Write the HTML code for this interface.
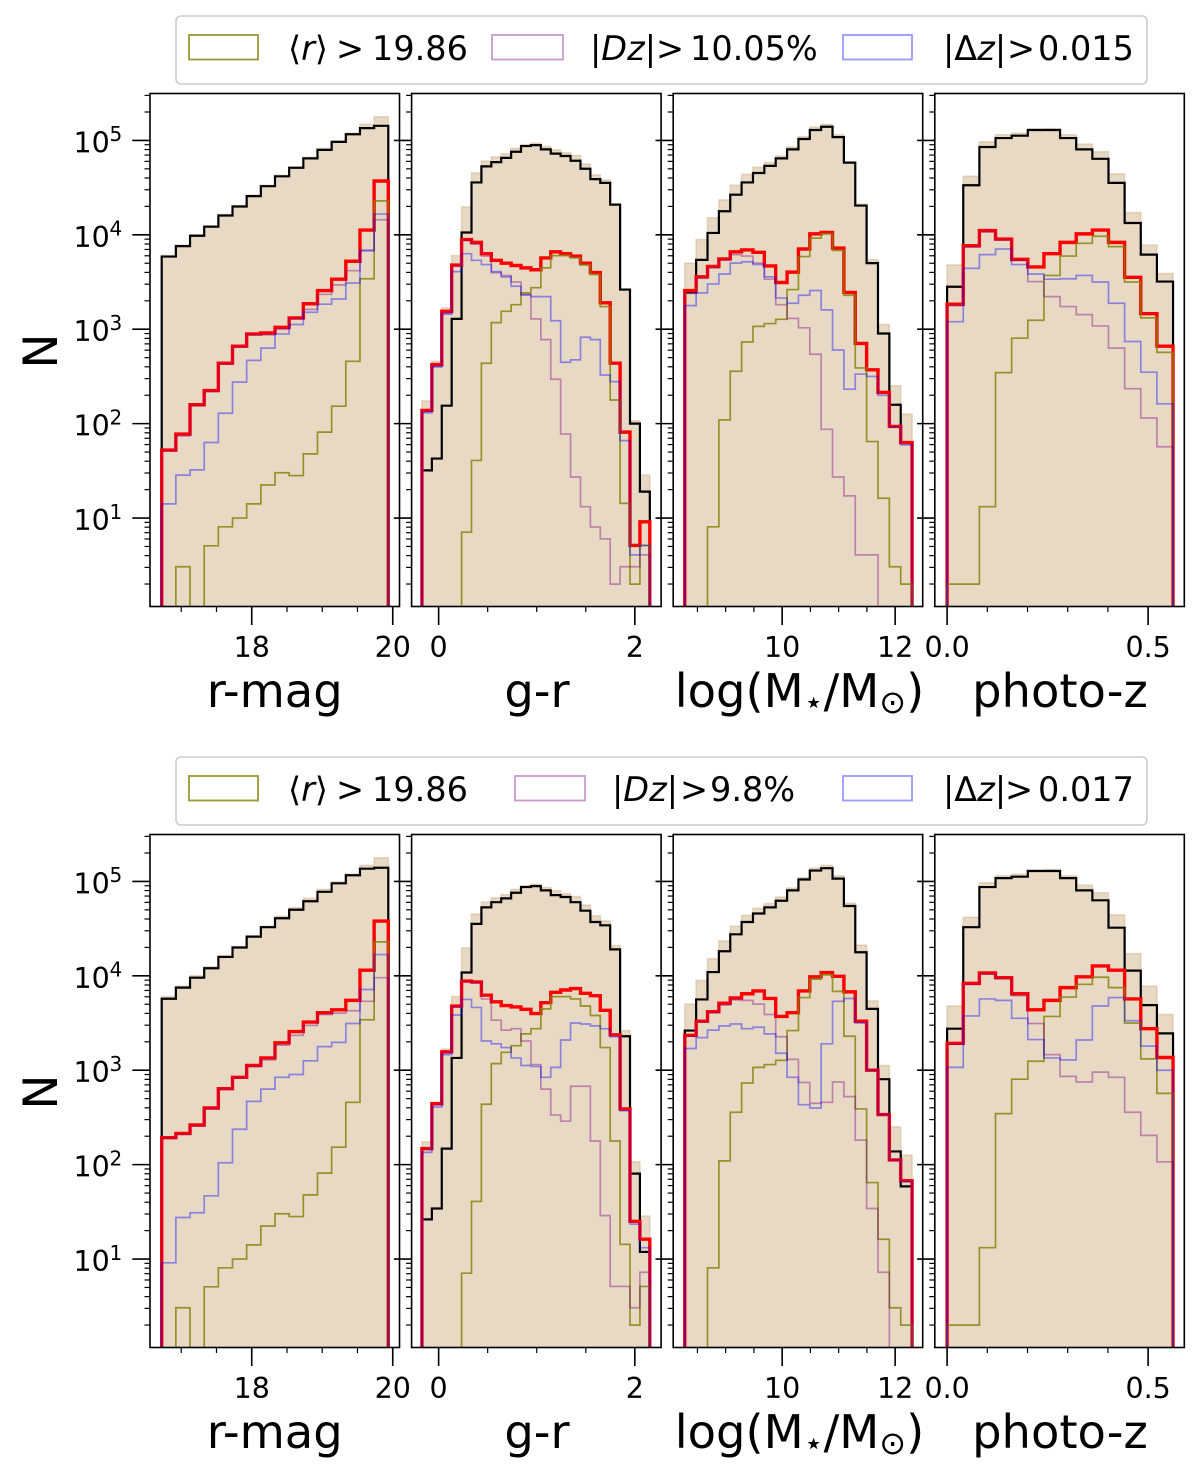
<!DOCTYPE html>
<html lang="en">
<head>
<meta charset="utf-8">
<title>Histograms of outlier selections</title>
<style>
html,body{margin:0;padding:0;background:#fff;}
svg{display:block;position:absolute;left:0;top:0;}
text{font-family:"DejaVu Sans","Liberation Sans",sans-serif;fill:#000;}
.leg{font-size:33.5px;}
.it{font-style:italic;}
.xl{font-size:46.4px;text-anchor:middle;}
.yl{font-size:47px;text-anchor:middle;}
</style>
</head>
<body>
<svg id="chart" xmlns="http://www.w3.org/2000/svg" width="1200" height="1477" viewBox="0 0 1200 1477">
  <rect x="0" y="0" width="1200" height="1477" fill="#fff"/>
  <g id="panels"></g>

  <g>
    <rect x="176" y="16" width="971" height="68" rx="5" fill="#fff" stroke="#ccc" stroke-width="1.6"/>
    <g>
      <rect x="189" y="35" width="69" height="24.5" fill="#fff" stroke="olive" stroke-opacity=".8" stroke-width="1.8"/>
      <text class="leg" x="288" y="60">⟨<tspan class="it">r</tspan>⟩</text>
      <text class="leg" x="336" y="60">&gt;</text>
      <text class="leg" x="372" y="60">19.86</text>
    </g>
    <g>
      <rect x="492" y="35" width="71" height="24.5" fill="#fff" stroke="purple" stroke-opacity=".4" stroke-width="1.8"/>
      <text class="leg" x="590" y="60">|<tspan class="it">Dz</tspan>|</text>
      <text class="leg" x="656" y="60">&gt;</text>
      <text class="leg" x="690" y="60">10.05%</text>
    </g>
    <g>
      <rect x="843" y="35" width="69" height="24.5" fill="#fff" stroke="blue" stroke-opacity=".4" stroke-width="1.8"/>
      <text class="leg" x="943" y="60">|Δ<tspan class="it">z</tspan>|</text>
      <text class="leg" x="1007" y="60">&gt;</text>
      <text class="leg" x="1038" y="60">0.015</text>
    </g>
  </g>

  <g>
    <rect x="176" y="757" width="971" height="68" rx="5" fill="#fff" stroke="#ccc" stroke-width="1.6"/>
    <g>
      <rect x="189" y="776" width="69" height="24.5" fill="#fff" stroke="olive" stroke-opacity=".8" stroke-width="1.8"/>
      <text class="leg" x="288" y="801">⟨<tspan class="it">r</tspan>⟩</text>
      <text class="leg" x="336" y="801">&gt;</text>
      <text class="leg" x="372" y="801">19.86</text>
    </g>
    <g>
      <rect x="515" y="776" width="70" height="24.5" fill="#fff" stroke="purple" stroke-opacity=".4" stroke-width="1.8"/>
      <text class="leg" x="612" y="801">|<tspan class="it">Dz</tspan>|</text>
      <text class="leg" x="680" y="801">&gt;</text>
      <text class="leg" x="710" y="801">9.8%</text>
    </g>
    <g>
      <rect x="843" y="776" width="69" height="24.5" fill="#fff" stroke="blue" stroke-opacity=".4" stroke-width="1.8"/>
      <text class="leg" x="943" y="801">|Δ<tspan class="it">z</tspan>|</text>
      <text class="leg" x="1005" y="801">&gt;</text>
      <text class="leg" x="1038" y="801">0.017</text>
    </g>
  </g>

  <text class="yl" transform="translate(57 351) rotate(-90)">N</text>
  <text class="yl" transform="translate(57 1092) rotate(-90)">N</text>

  <text class="xl" x="274.7" y="707">r-mag</text>
  <text class="xl" x="537" y="707">g-r</text>
  <text class="xl" x="799.5" y="707">log(M<tspan font-size="32" dy="6">⋆</tspan><tspan dy="-6">/M</tspan><tspan font-size="32" dy="6">⊙</tspan><tspan dy="-6">)</tspan></text>
  <text class="xl" x="1060" y="707">photo-z</text>

  <text class="xl" x="274.7" y="1448">r-mag</text>
  <text class="xl" x="537" y="1448">g-r</text>
  <text class="xl" x="799.5" y="1448">log(M<tspan font-size="32" dy="6">⋆</tspan><tspan dy="-6">/M</tspan><tspan font-size="32" dy="6">⊙</tspan><tspan dy="-6">)</tspan></text>
  <text class="xl" x="1060" y="1448">photo-z</text>
</svg>

<script>
// All series hold log10(N) per histogram bin; null marks an empty bin.
const yLimLog = [0.063, 5.497];
const yMajorExponents = [1, 2, 3, 4, 5];
const yMinorMultiples = [2, 3, 4, 5, 6, 7, 8, 9];

// r-mag
const rmagLim = [16.557, 20.096];
const rmagRange = [16.723, 19.937];
const rmagTicks = [18, 20];
const rmagTickLabels = ['18', '20'];
const rmagMinor = [17, 17.5, 18.5, 19, 19.5];
const rmagFill = [3.78,3.89,4.0,4.095,4.215,4.31,4.42,4.525,4.63,4.72,4.82,4.915,4.995,5.075,5.17,5.25];
const rmagOlive = [null,0.484,null,0.706,0.907,1.0,1.15,1.35,1.48,1.45,1.68,1.91,2.185,2.66,3.535,4.36];
const rmagBlackTop = [3.77,3.88,3.99,4.086,4.205,4.30,4.41,4.515,4.62,4.71,4.81,4.90,4.985,5.065,5.13,5.155];
const rmagRedTop = [1.72,1.89,2.20,2.35,2.64,2.82,2.95,2.96,3.02,3.12,3.27,3.41,3.53,3.72,4.05,4.57];
const rmagPurpleTop = [1.71,1.87,2.19,2.34,2.63,2.81,2.94,2.94,3.0,3.11,3.21,3.37,3.47,3.62,3.84,4.16];
const rmagBlueTop = [1.15,1.455,1.51,1.80,2.11,2.44,2.67,2.80,2.95,3.05,3.18,3.265,3.32,3.49,3.83,4.22];
const rmagBlackBottom = [3.757,3.875,3.98,4.08,4.20,4.30,4.415,4.515,4.61,4.70,4.79,4.89,4.98,5.065,5.135,5.145];
const rmagRedBottom = [2.285,2.33,2.42,2.60,2.805,2.925,3.05,3.13,3.29,3.41,3.51,3.61,3.64,3.74,4.06,4.58];
const rmagPurpleBottom = [2.28,2.32,2.41,2.595,2.80,2.92,3.04,3.11,3.265,3.37,3.475,3.59,3.605,3.63,3.73,3.98];
const rmagBlueBottom = [0.96,1.44,1.49,1.67,2.02,2.375,2.67,2.80,2.925,2.955,3.10,3.25,3.295,3.495,3.855,4.225];

// g-r
const grLim = [-0.2755, 2.268];
const grRange = [-0.170, 2.153];
const grTicks = [0, 2];
const grTickLabels = ['0', '2'];
const grMinor = [0.5, 1, 1.5];
const grFill = [2.24,2.66,3.225,3.78,4.295,4.655,4.78,4.825,4.86,4.915,4.955,4.97,4.935,4.90,4.87,4.84,4.75,4.635,4.58,4.32,3.42,2.03,1.455];
const grOlive = [null,null,null,null,0.85,1.61,2.64,3.07,3.19,3.26,3.385,3.44,3.65,3.78,3.78,3.755,3.68,3.58,3.24,2.25,1.155,0.30,0.71];
const grBlackTop = [1.505,1.63,2.19,3.11,4.025,4.555,4.725,4.77,4.815,4.88,4.94,4.95,4.905,4.86,4.835,4.785,4.70,4.59,4.55,4.32,3.42,2.0,1.28];
const grRedTop = [2.14,2.625,3.19,3.68,3.95,3.92,3.80,3.73,3.70,3.675,3.65,3.63,3.755,3.82,3.80,3.775,3.70,3.60,3.28,2.64,1.91,0.71,0.96];
const grPurpleTop = [2.13,2.61,3.17,3.67,3.945,3.90,3.775,3.60,3.57,3.50,3.365,3.11,2.89,2.47,1.89,1.435,1.12,0.905,0.78,0.30,0.484,0.484,0.61];
const grBlueTop = [2.115,2.60,3.16,3.61,3.80,3.73,3.685,3.61,3.555,3.455,3.365,3.345,3.345,3.09,2.65,2.675,2.915,2.89,2.515,2.445,1.82,0.61,0.71];
const grBlackBottom = [1.42,1.535,2.17,3.13,4.035,4.55,4.725,4.78,4.82,4.88,4.94,4.95,4.905,4.855,4.835,4.78,4.69,4.57,4.535,4.28,3.36,1.905,1.075];
const grRedBottom = [2.17,2.645,3.195,3.68,3.945,3.935,3.795,3.725,3.685,3.67,3.645,3.60,3.715,3.825,3.85,3.865,3.815,3.79,3.635,3.375,2.59,1.40,1.21];
const grPurpleBottom = [2.16,2.635,3.185,3.67,3.94,3.925,3.755,3.53,3.425,3.44,3.31,3.06,2.80,2.525,2.46,2.83,2.83,2.25,1.46,0.71,0.71,0.484,0.86];
const grBlueBottom = [2.13,2.61,3.165,3.585,3.75,3.665,3.31,3.28,3.24,3.13,3.05,3.04,2.925,3.03,3.32,3.50,3.49,3.47,3.44,3.355,2.57,1.37,1.12];

// log stellar mass
const massLim = [8.071, 12.488];
const massRange = [8.276, 12.30];
const massTicks = [10, 12];
const massTickLabels = ['10', '12'];
const massMinor = [8.5, 9, 9.5, 10.5, 11, 11.5];
const massFill = [3.70,3.95,4.18,4.37,4.525,4.64,4.715,4.765,4.835,4.93,5.04,5.14,5.17,5.06,4.77,4.325,3.735,3.05,2.40,2.10];
const massOlive = [null,null,0.907,2.04,2.555,2.865,3.03,3.06,3.105,3.42,3.77,3.965,4.01,3.835,3.36,2.59,1.81,1.21,0.484,0.30];
const massBlackTop = [3.39,3.735,4.02,4.25,4.425,4.555,4.655,4.73,4.81,4.905,5.015,5.11,5.145,5.035,4.765,4.31,3.70,2.955,2.20,1.80];
const massRedTop = [3.41,3.555,3.665,3.745,3.82,3.84,3.815,3.67,3.495,3.605,3.85,4.01,4.025,3.86,3.39,2.85,2.57,2.33,1.97,1.80];
const massPurpleTop = [3.38,3.54,3.65,3.735,3.79,3.775,3.70,3.53,3.26,3.115,3.015,2.735,1.94,1.435,1.235,0.61,0.61,null,null,null];
const massBlueTop = [3.25,3.385,3.48,3.585,3.70,3.715,3.685,3.555,3.33,3.275,3.36,3.41,3.205,2.78,2.365,2.525,2.50,2.30,1.965,1.775];
const massBlackBottom = [3.42,3.75,4.04,4.26,4.44,4.57,4.66,4.725,4.795,4.905,5.02,5.115,5.14,5.03,4.74,4.25,3.65,2.905,2.14,1.77];
const massRedBottom = [3.37,3.52,3.62,3.71,3.765,3.81,3.84,3.76,3.57,3.61,3.84,3.99,4.035,3.995,3.83,3.52,3.00,2.53,2.05,1.83];
const massPurpleBottom = [3.36,3.51,3.61,3.69,3.745,3.74,3.70,3.59,3.355,3.115,2.87,2.65,2.66,2.875,2.72,2.26,1.535,0.86,null,null];
const massBlueBottom = [3.23,3.345,3.425,3.47,3.49,3.44,3.455,3.385,3.18,2.925,2.635,2.60,3.28,3.73,3.76,3.50,3.00,2.53,2.05,1.82];

// photo-z
const photozLim = [-0.0306, 0.590];
const photozRange = [0, 0.562];
const photozTicks = [0, 0.5];
const photozTickLabels = ['0.0', '0.5'];
const photozMinor = [0.1, 0.2, 0.3, 0.4];
const photozFill = [3.68,4.62,4.985,5.06,5.075,5.12,5.125,5.06,4.96,4.88,4.645,4.235,3.89,3.59];
const photozOlive = [0.30,0.30,1.12,2.54,2.905,3.095,3.57,3.775,3.91,3.985,3.875,3.50,3.12,2.755];
const photozBlackTop = [3.45,4.525,4.93,5.025,5.05,5.11,5.11,5.025,4.905,4.805,4.55,4.125,3.79,3.505];
const photozRedTop = [3.265,3.885,4.045,3.955,3.74,3.66,3.80,3.92,4.01,4.05,3.92,3.55,3.165,2.82];
const photozPurpleTop = [3.25,3.87,4.03,3.945,3.73,3.505,3.345,3.24,3.155,3.035,2.80,2.37,2.06,1.755];
const photozBlueTop = [3.08,3.645,3.79,3.85,3.685,3.585,3.53,3.535,3.57,3.50,3.275,2.87,2.545,2.21];
const photozBlackBottom = [3.44,4.515,4.94,5.035,5.05,5.11,5.11,5.035,4.905,4.80,4.51,4.055,3.69,3.39];
const photozRedBottom = [3.285,3.92,4.03,3.98,3.81,3.64,3.74,3.875,3.99,4.105,4.06,3.755,3.44,3.135];
const photozPurpleBottom = [3.275,3.91,4.02,3.97,3.79,3.495,3.165,2.935,2.875,2.98,2.925,2.555,2.31,2.03];
const photozBlueBottom = [3.03,3.575,3.755,3.74,3.55,3.325,3.13,3.11,3.32,3.68,3.77,3.525,3.255,3.00];

const columns = [
  {key:'r-mag', lim:rmagLim, range:rmagRange, ticks:rmagTicks, labels:rmagTickLabels, minor:rmagMinor, fill:rmagFill, olive:rmagOlive,
   rows:[{black:rmagBlackTop,red:rmagRedTop,purple:rmagPurpleTop,blue:rmagBlueTop},{black:rmagBlackBottom,red:rmagRedBottom,purple:rmagPurpleBottom,blue:rmagBlueBottom}]},
  {key:'g-r', lim:grLim, range:grRange, ticks:grTicks, labels:grTickLabels, minor:grMinor, fill:grFill, olive:grOlive,
   rows:[{black:grBlackTop,red:grRedTop,purple:grPurpleTop,blue:grBlueTop},{black:grBlackBottom,red:grRedBottom,purple:grPurpleBottom,blue:grBlueBottom}]},
  {key:'stellar-mass', lim:massLim, range:massRange, ticks:massTicks, labels:massTickLabels, minor:massMinor, fill:massFill, olive:massOlive,
   rows:[{black:massBlackTop,red:massRedTop,purple:massPurpleTop,blue:massBlueTop},{black:massBlackBottom,red:massRedBottom,purple:massPurpleBottom,blue:massBlueBottom}]},
  {key:'photo-z', lim:photozLim, range:photozRange, ticks:photozTicks, labels:photozTickLabels, minor:photozMinor, fill:photozFill, olive:photozOlive,
   rows:[{black:photozBlackTop,red:photozRedTop,purple:photozPurpleTop,blue:photozBlueTop},{black:photozBlackBottom,red:photozRedBottom,purple:photozPurpleBottom,blue:photozBlueBottom}]}
];

const NS = 'http://www.w3.org/2000/svg';
const AX_W = 249.5, AX_H = 513;

function make(tag, attrs, parent) {
  const n = document.createElementNS(NS, tag);
  for (const k in attrs) n.setAttribute(k, attrs[k]);
  parent.appendChild(n);
  return n;
}

function stepPath(values, xScale, range, yScale, baseY) {
  const n = values.length;
  const edge = i => xScale(range[0] + (range[1] - range[0]) * i / n);
  let d = 'M' + edge(0).toFixed(2) + ' ' + baseY;
  for (let i = 0; i < n; i++) {
    const v = values[i];
    const y = v === null ? baseY : yScale(v);
    d += 'V' + y.toFixed(2) + 'H' + edge(i + 1).toFixed(2);
  }
  return d + 'V' + baseY;
}

const root = document.getElementById('panels');
const defs = make('defs', {}, root);

[0, 1].forEach(function (rowIdx) {
  const top = 93.5 + rowIdx * 741;
  const bottom = top + AX_H;
  const yScale = v => bottom - (v - yLimLog[0]) / (yLimLog[1] - yLimLog[0]) * AX_H;

  columns.forEach(function (col, colIdx) {
    const left = 150 + colIdx * 261.6;
    const right = left + AX_W;
    const xScale = v => left + (v - col.lim[0]) / (col.lim[1] - col.lim[0]) * AX_W;
    const clipId = 'clip-' + rowIdx + '-' + colIdx;
    const clip = make('clipPath', {id: clipId}, defs);
    make('rect', {x: left, y: top, width: AX_W, height: AX_H}, clip);

    const panel = make('g', {}, root);
    
    

    const marks = make('g', {'clip-path': 'url(#' + clipId + ')'}, panel);
    const baseY = bottom + 6;
    const series = col.rows[rowIdx];

    const fillPath = make('path', {d: stepPath(col.fill, xScale, col.range, yScale, baseY), fill: 'tan', 'fill-opacity': .5, stroke: 'tan', 'stroke-opacity': .5, 'stroke-width': 1.6}, marks);
    
    

    const blackPath = make('path', {d: stepPath(series.black, xScale, col.range, yScale, baseY), fill: 'none', stroke: '#000', 'stroke-width': 2.2}, marks);
    
    

    const redPath = make('path', {d: stepPath(series.red, xScale, col.range, yScale, baseY), fill: 'none', stroke: '#f00', 'stroke-width': 3.4}, marks);
    
    

    const olivePath = make('path', {d: stepPath(col.olive, xScale, col.range, yScale, baseY), fill: 'none', stroke: 'olive', 'stroke-opacity': .8, 'stroke-width': 1.7}, marks);
    
    

    const purplePath = make('path', {d: stepPath(series.purple, xScale, col.range, yScale, baseY), fill: 'none', stroke: 'purple', 'stroke-opacity': .4, 'stroke-width': 1.7}, marks);
    
    

    const bluePath = make('path', {d: stepPath(series.blue, xScale, col.range, yScale, baseY), fill: 'none', stroke: 'blue', 'stroke-opacity': .4, 'stroke-width': 1.7}, marks);
    
    

    // y ticks
    yMajorExponents.forEach(function (e) {
      const y = yScale(e);
      const tick = make('line', {x1: left - 17.7, x2: left, y1: y, y2: y, stroke: '#000', 'stroke-width': 1.6}, panel);
      
      
      if (colIdx === 0) {
        const label = make('text', {x: 73.5, y: y + 12, 'font-size': 28.5}, panel);
        
        
        label.textContent = '10';
        const sup = make('tspan', {x: 109.5, y: y + 0.8, 'font-size': 20}, label);
        sup.textContent = String(e);
      }
    });
    [0, 1, 2, 3, 4, 5].forEach(function (e) {
      yMinorMultiples.forEach(function (m) {
        const v = e + Math.log10(m);
        if (v < yLimLog[0] || v > yLimLog[1]) return;
        const y = yScale(v);
        const tick = make('line', {x1: left - 5.5, x2: left, y1: y, y2: y, stroke: '#000', 'stroke-width': 1.2}, panel);
        
        
      });
    });

    // x ticks
    col.ticks.forEach(function (t, i) {
      const x = xScale(t);
      const tick = make('line', {x1: x, x2: x, y1: bottom, y2: bottom + 18.5, stroke: '#000', 'stroke-width': 1.6}, panel);
      
      
      const label = make('text', {x: x, y: bottom + 50.5, 'font-size': 28.5, 'text-anchor': 'middle'}, panel);
      
      
      label.textContent = col.labels[i];
    });
    col.minor.forEach(function (t) {
      const x = xScale(t);
      const tick = make('line', {x1: x, x2: x, y1: bottom, y2: bottom + 5.5, stroke: '#000', 'stroke-width': 1.2}, panel);
      
      
    });

    const frame = make('rect', {x: left, y: top, width: AX_W, height: AX_H, fill: 'none', stroke: '#000', 'stroke-width': 1.6}, panel);
    
    
  });
});
</script>
</body>
</html>
